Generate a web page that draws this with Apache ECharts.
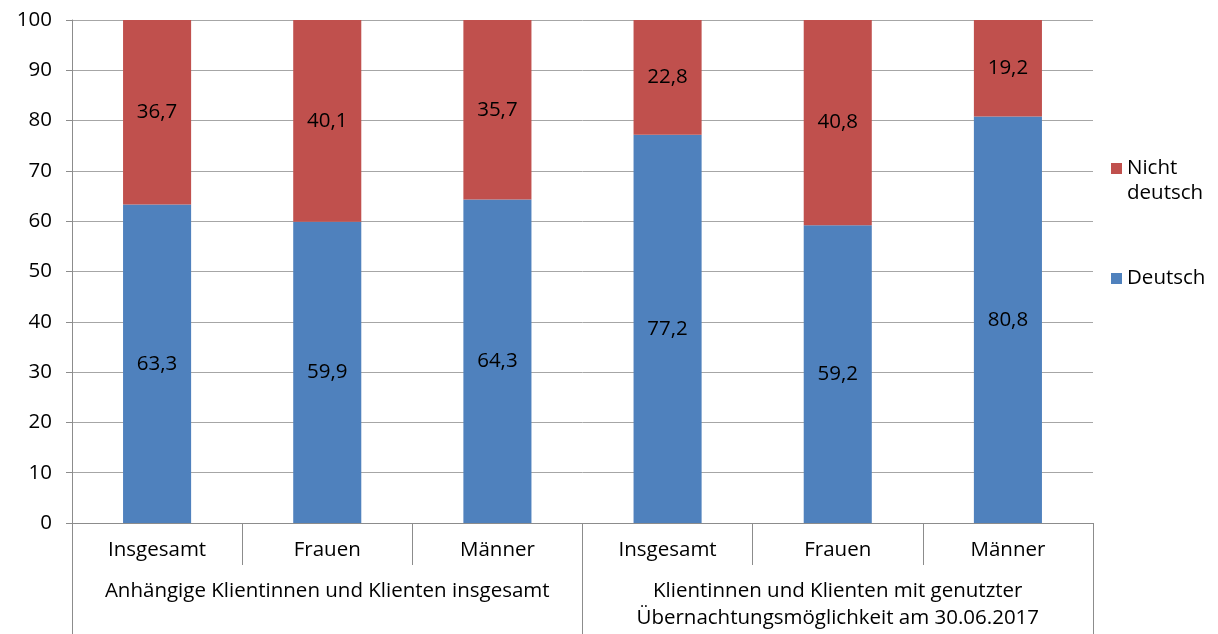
<!DOCTYPE html>
<html><head><meta charset="utf-8">
<script src="https://cdn.jsdelivr.net/npm/echarts@6/dist/echarts.min.js"></script>
<style>html,body{margin:0;padding:0;background:#fff}#c{width:1218px;height:634px}</style>
</head><body><div id="c"></div>
<script>
const categories = ['Insgesamt','Frauen','Männer','Insgesamt','Frauen','Männer'];
const groups = ['Anhängige Klientinnen und Klienten insgesamt','Klientinnen und Klienten mit genutzter\nÜbernachtungsmöglichkeit am 30.06.2017'];
const deutsch = [63.3,59.9,64.3,77.2,59.2,80.8];
const nichtDeutsch = [36.7,40.1,35.7,22.8,40.8,19.2];
const yTicks = {min:0,max:100,interval:10};

const FONT = '"Open Sans"';
const FS = 20.5;
const fmt = p => p.value.toFixed(1).replace('.', ',');
const chart = echarts.init(document.getElementById('c'), null, {renderer:'canvas'});
chart.setOption({
  animation:false,
  textStyle:{fontFamily:FONT},
  grid:{left:72,right:125,top:20,bottom:111,containLabel:false},
  legend:[
    {data:['Nicht deutsch'],orient:'vertical',left:1106,top:126,itemWidth:11,itemHeight:11,itemGap:5,
     formatter:()=> ' \nNicht\ndeutsch',
     textStyle:{fontFamily:FONT,fontSize:FS,color:'#000',lineHeight:25},icon:'rect'},
    {data:['Deutsch'],orient:'vertical',left:1106,top:263,itemWidth:11,itemHeight:11,
     textStyle:{fontFamily:FONT,fontSize:FS,color:'#000'},icon:'rect'}
  ],
  xAxis:[
    {type:'category',data:categories,position:'bottom',offset:0,
     axisLine:{show:true,lineStyle:{color:'#8c8c8c',width:1}},
     axisTick:{show:true,length:42,lineStyle:{color:'#8c8c8c'}},
     axisLabel:{interval:0,color:'#000',fontSize:FS,fontFamily:FONT,margin:17},
     splitLine:{show:false}},
    {type:'category',data:groups,position:'bottom',offset:0,
     axisLine:{show:false},
     axisTick:{show:true,length:111,lineStyle:{color:'#8c8c8c'}},
     axisLabel:{interval:0,color:'#000',fontSize:FS,fontFamily:FONT,margin:55,lineHeight:27},
     splitLine:{show:false}}
  ],
  yAxis:{type:'value',min:yTicks.min,max:yTicks.max,interval:yTicks.interval,
    axisLine:{show:true,lineStyle:{color:'#8c8c8c'}},
    axisTick:{show:true,length:6,lineStyle:{color:'#8c8c8c'}},
    axisLabel:{color:'#000',fontSize:FS,fontFamily:FONT,margin:20},
    splitLine:{show:true,lineStyle:{color:'#a6a6a6',width:1}}},
  series:[
    {name:'Deutsch',type:'bar',stack:'a',data:deutsch,barWidth:'40%',xAxisIndex:0,
     itemStyle:{color:'#4F81BD'},
     label:{show:true,position:'inside',color:'#000',fontSize:FS,fontFamily:FONT,formatter:fmt}},
    {name:'Nicht deutsch',type:'bar',stack:'a',data:nichtDeutsch,barWidth:'40%',xAxisIndex:0,
     itemStyle:{color:'#C0504D'},
     label:{show:true,position:'inside',color:'#000',fontSize:FS,fontFamily:FONT,formatter:fmt}}
  ]
});
</script></body></html>
